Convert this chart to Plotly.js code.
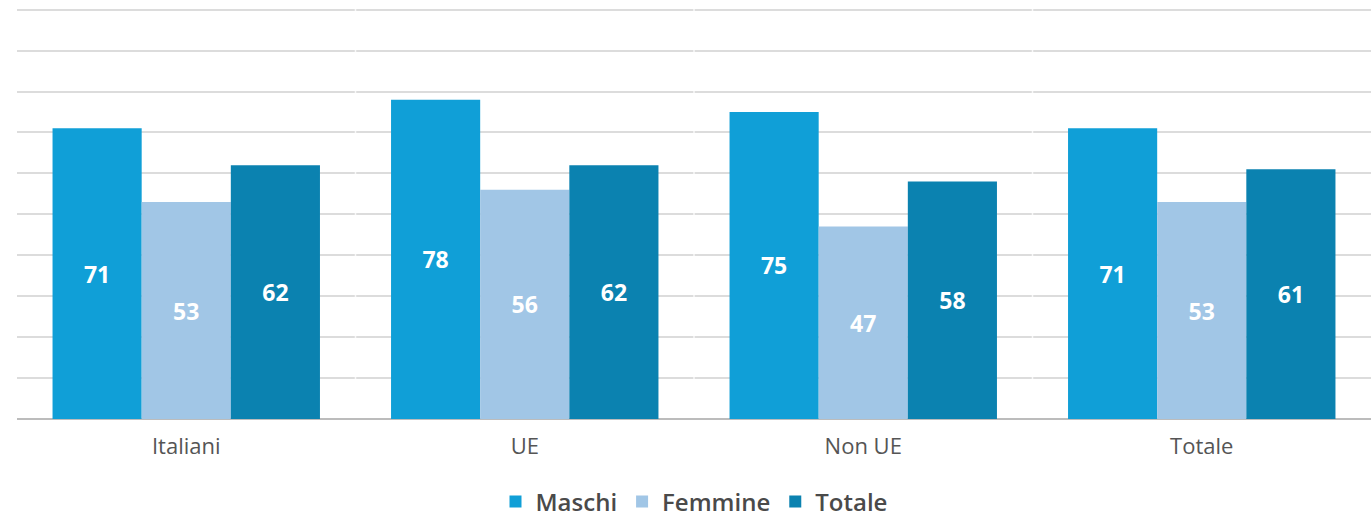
<!DOCTYPE html>
<html><head><meta charset="utf-8">
<script src="https://cdn.plot.ly/plotly-3.0.1.min.js"></script>
<style>html,body{margin:0;padding:0;background:#fff}#chart{width:1371px;height:517px}</style>
</head><body><div id="chart"></div>
<script>
const categories = ["Italiani", "UE", "Non UE", "Totale"];
const maschi = [71, 78, 75, 71];
const femmine = [53, 56, 47, 53];
const totale = [62, 62, 58, 61];
const seriesNames = ["Maschi", "Femmine", "Totale"];
const colors = ["#109fd7", "#a1c6e6", "#0b82b0"];

const mk = (vals, i) => ({
  type: 'bar', name: seriesNames[i], x: categories, y: vals,
  marker: {color: colors[i]},
  text: vals.map(String), textposition: 'inside', insidetextanchor: 'middle',
  textfont: {family: 'Open Sans, sans-serif', size: 23, color: '#ffffff', weight: 700},
  hoverinfo: 'x+y+name'
});
const data = [mk(maschi,0), mk(femmine,1), mk(totale,2)];
const gaps = [0.5, 1.5, 2.5].map(x => ({type: 'line', xref: 'x', yref: 'y', layer: 'above',
  x0: x, x1: x, y0: 5, y1: 100.6, line: {color: 'rgba(255,255,255,0.8)', width: 1.5}}));
const layout = {
  width: 1371, height: 517,
  margin: {l: 17, r: 0, t: 8, b: 98, autoexpand: false},
  paper_bgcolor: '#fff', plot_bgcolor: '#fff',
  barmode: 'group', bargap: 0.21, bargroupgap: 0,
  showlegend: true,
  legend: {orientation: 'h', x: 0.5, xanchor: 'center', yref: 'container', y: 0.029, yanchor: 'middle',
    font: {family: 'Open Sans, sans-serif', size: 24, color: '#4a4a4a', weight: 600},
    itemwidth: 30, traceorder: 'normal'},
  xaxis: {range: [-0.5, 3.5], showgrid: false, zeroline: false, automargin: false,
    tickfont: {family: 'Open Sans, sans-serif', size: 22, color: '#555'},
    ticks: '', showline: false, ticklabelstandoff: 12},
  yaxis: {range: [0, 100.4], tickvals: [0,10,20,30,40,50,60,70,80,90,100], showticklabels: false, showgrid: true,
    automargin: false,
    gridcolor: '#dcdcdc', gridwidth: 1.5, zeroline: true, zerolinecolor: '#bcbcbc', zerolinewidth: 2},
  shapes: gaps
};
Plotly.newPlot('chart', data, layout, {displayModeBar: false});
</script></body></html>
